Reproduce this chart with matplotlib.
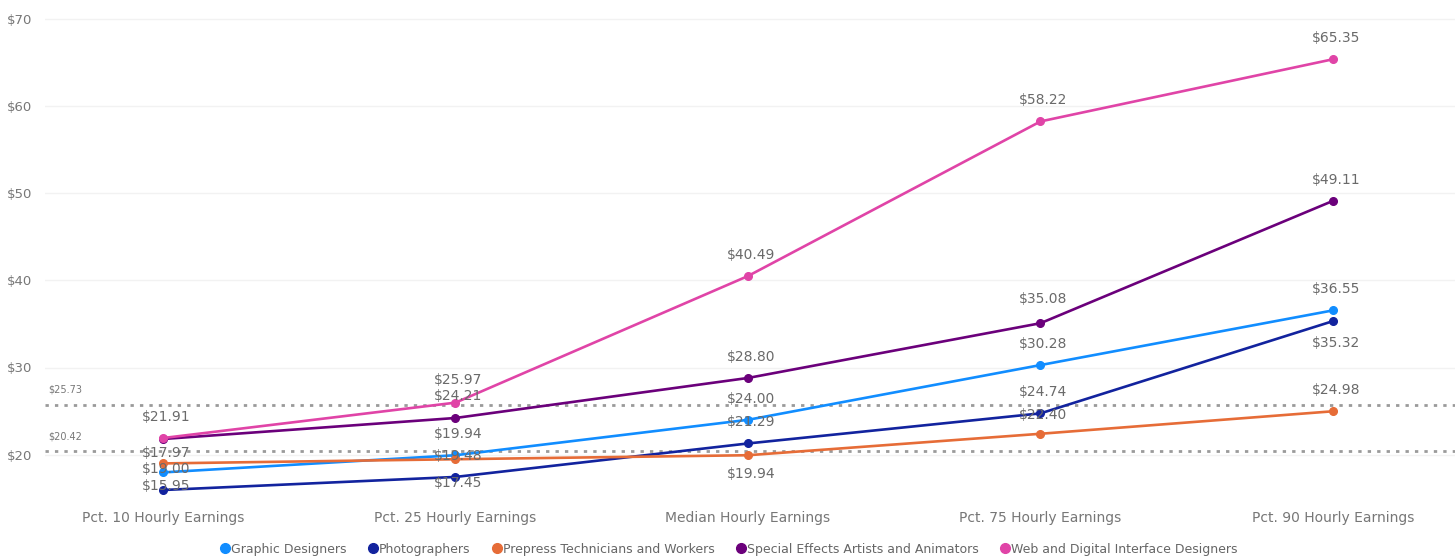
import matplotlib
matplotlib.use("Agg")
import matplotlib.pyplot as plt
from matplotlib.lines import Line2D

# Hourly earnings by percentile for five occupations
categories = ["Pct. 10 Hourly Earnings", "Pct. 25 Hourly Earnings", "Median Hourly Earnings",
              "Pct. 75 Hourly Earnings", "Pct. 90 Hourly Earnings"]

series_names = ["Graphic Designers", "Photographers", "Prepress Technicians and Workers",
                "Special Effects Artists and Animators", "Web and Digital Interface Designers"]

graphic_designers = [17.97, 19.94, 24.00, 30.28, 36.55]
photographers = [15.95, 17.45, 21.29, 24.74, 35.32]
prepress_technicians = [19.00, 19.48, 19.94, 22.40, 24.98]
special_effects = [21.80, 24.21, 28.80, 35.08, 49.11]
web_designers = [21.91, 25.97, 40.49, 58.22, 65.35]

reference_values = [25.73, 20.42]
y_ticks = [20, 30, 40, 50, 60, 70]

series_values = [graphic_designers, photographers, prepress_technicians,
                 special_effects, web_designers]
colors = ["#118DFF", "#12239E", "#E66C37", "#6B007B", "#E044A7"]

# Vertical label offsets in pixels keyed by (series, category); negative = above the point,
# None hides the label. Anything not listed sits above the point.
DEFAULT_OFFSET = -21
label_offsets = {
    (0, 0): -19, (1, 0): -4, (2, 0): 6, (3, 0): None,
    (2, 1): -3, (1, 1): 6, (3, 1): -22, (4, 1): -23,
    (2, 2): 19,
    (3, 3): -24, (2, 3): -19,
    (1, 4): 22,
}

fig = plt.figure(figsize=(14.55, 5.6), dpi=100)
W, H = 1455, 560
ax_left, ax_right, ax_top, ax_bottom = 45, 1455, 10, 500
ax = fig.add_axes([ax_left / W, 1 - ax_bottom / H, (ax_right - ax_left) / W, (ax_bottom - ax_top) / H])

x = list(range(len(categories)))
px_per_cat = 292.5
ax.set_xlim(0 - (163 - ax_left) / px_per_cat, 4 + (ax_right - 1333) / px_per_cat)
px_per_dollar = 8.72
ax.set_ylim(20 - (ax_bottom - 454.7) / px_per_dollar, 20 + (454.7 - ax_top) / px_per_dollar)

for gy in y_ticks:
    ax.axhline(gy, color="#f2f2f2", linewidth=1, zorder=0)

for rv in reference_values:
    ax.axhline(rv, color="#9a9a9a", linewidth=2, linestyle=(0, (1.2, 2.2)), zorder=1)
    ax.annotate(f"${rv:.2f}", xy=(0, rv), xycoords=("axes fraction", "data"),
                xytext=(3, 15), textcoords="offset pixels", fontsize=7, color="#777777",
                ha="left", va="center")

for si, (vals, col) in enumerate(zip(series_values, colors)):
    ax.plot(x, vals, color=col, linewidth=1.9, marker="o", markersize=5.5, zorder=3)
    for ci, v in enumerate(vals):
        off = label_offsets.get((si, ci), DEFAULT_OFFSET)
        if off is None:
            continue
        ax.annotate(f"${v:.2f}", xy=(ci, v), xytext=(3, -off), textcoords="offset pixels",
                    ha="center", va="center", fontsize=10, color="#6a6a6a", zorder=5)

ax.set_yticks(y_ticks)
ax.set_yticklabels([f"${t}" for t in y_ticks])
ax.set_xticks(x)
ax.set_xticklabels(categories)
ax.tick_params(axis="y", length=0, labelsize=9.5, labelcolor="#777777", pad=9)
ax.tick_params(axis="x", length=0, labelsize=10, labelcolor="#777777", pad=8)
for s in ax.spines.values():
    s.set_visible(False)

handles = [Line2D([], [], marker="o", linestyle="none", color=c, markersize=7) for c in colors]
fig.legend(handles, series_names, loc="center", bbox_to_anchor=(728 / W, 1 - 549 / H),
           ncol=5, frameon=False, fontsize=9, labelcolor="#666666",
           handletextpad=0.0, columnspacing=1.6, handlelength=1.0)

fig.savefig("out.png", dpi=100, facecolor="white")
